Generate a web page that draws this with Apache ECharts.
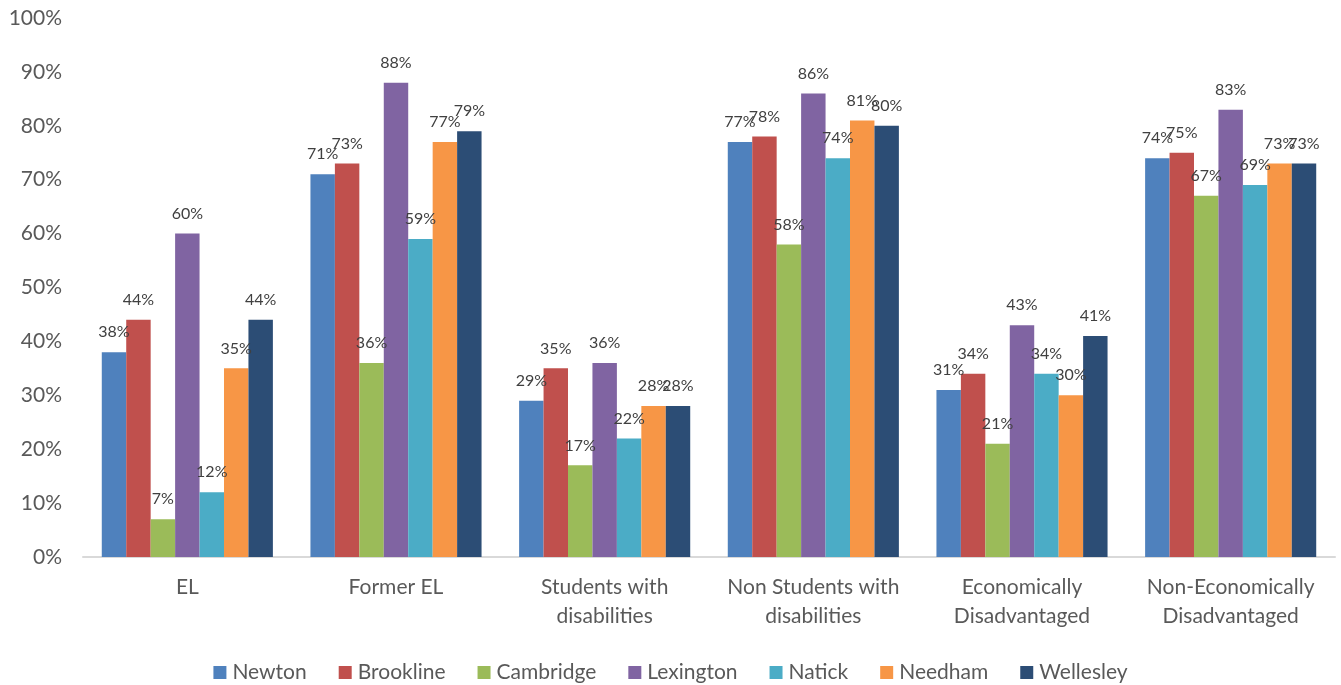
<!DOCTYPE html>
<html>
<head>
<meta charset="utf-8">
<script src="https://cdn.jsdelivr.net/npm/echarts@6/dist/echarts.min.js"></script>
<style>
  html, body { margin: 0; padding: 0; background: #fff; }
  #chart { width: 1341px; height: 685px; }
</style>
</head>
<body>
<div id="chart"></div>
<script>
// Student groups along the x axis
const categories = [
  'EL',
  'Former EL',
  'Students with\ndisabilities',
  'Non Students with\ndisabilities',
  'Economically\nDisadvantaged',
  'Non-Economically\nDisadvantaged'
];

// District results (%) per student group
const newton    = [38, 71, 29, 77, 31, 74];
const brookline = [44, 73, 35, 78, 34, 75];
const cambridge = [7, 36, 17, 58, 21, 67];
const lexington = [60, 88, 36, 86, 43, 83];
const natick    = [12, 59, 22, 74, 34, 69];
const needham   = [35, 77, 28, 81, 30, 73];
const wellesley = [44, 79, 28, 80, 41, 73];

const districts = [
  { name: 'Newton', data: newton, color: '#4F81BD' },
  { name: 'Brookline', data: brookline, color: '#C0504D' },
  { name: 'Cambridge', data: cambridge, color: '#9BBB59' },
  { name: 'Lexington', data: lexington, color: '#8064A2' },
  { name: 'Natick', data: natick, color: '#4BACC6' },
  { name: 'Needham', data: needham, color: '#F79646' },
  { name: 'Wellesley', data: wellesley, color: '#2C4D75' }
];

const FONT = 'Lato, "Open Sans", sans-serif';

const chart = echarts.init(document.getElementById('chart'), null, { renderer: 'canvas' });

chart.setOption({
  backgroundColor: '#ffffff',
  animation: false,
  textStyle: { fontFamily: FONT },
  grid: { left: 83, right: 6, top: 18, bottom: 128, containLabel: false },
  legend: {
    top: 657,
    left: 'center',
    itemWidth: 13,
    itemHeight: 13,
    itemGap: 32,
    icon: 'rect',
    textStyle: { fontSize: 21, color: '#595959', fontFamily: FONT, padding: [0, 0, 0, 1] },
    data: districts.map(d => d.name)
  },
  xAxis: {
    type: 'category',
    data: categories,
    axisLine: { show: true, lineStyle: { color: '#D9D9D9', width: 2 } },
    axisTick: { show: false },
    axisLabel: {
      interval: 0,
      hideOverlap: false,
      fontSize: 21,
      color: '#595959',
      lineHeight: 29,
      margin: 16,
      fontFamily: FONT
    }
  },
  yAxis: {
    type: 'value',
    min: 0,
    max: 100,
    interval: 10,
    splitLine: { show: false },
    axisLine: { show: false },
    axisTick: { show: false },
    axisLabel: { fontSize: 21, color: '#595959', margin: 21, formatter: '{value}%', fontFamily: FONT }
  },
  series: districts.map(d => ({
    name: d.name,
    type: 'bar',
    data: d.data,
    barGap: '0%',
    barCategoryGap: '18%',
    itemStyle: { color: d.color },
    label: {
      show: true,
      position: 'top',
      distance: 12,
      formatter: '{c}%',
      fontSize: 16,
      color: '#404040',
      fontFamily: FONT
    }
  }))
});
</script>
</body>
</html>
